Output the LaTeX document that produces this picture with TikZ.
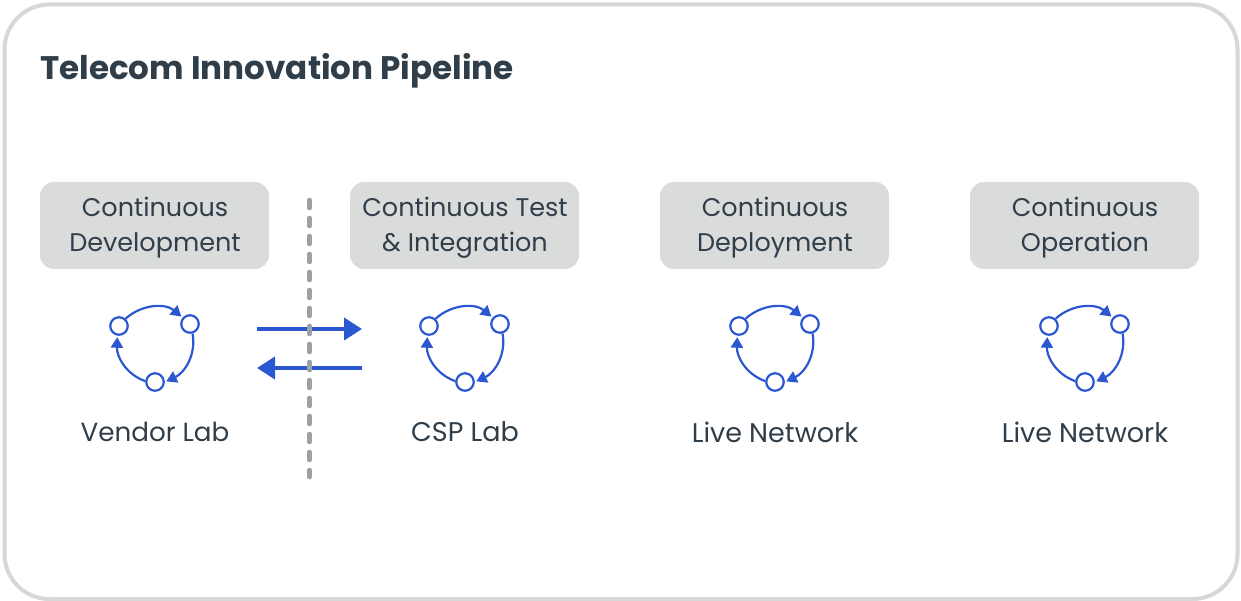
\documentclass[tikz,border=0pt]{standalone}
\usepackage{fontspec}
\setmainfont{Poppins}
\usetikzlibrary{arrows.meta}
\definecolor{framegray}{HTML}{D6D7D7}
\definecolor{boxgray}{HTML}{DADCDC}
\definecolor{inkdark}{HTML}{303E4A}
\definecolor{flowblue}{HTML}{2B57D0}
\definecolor{dashgray}{HTML}{9BA1A5}
\tikzset{
  x=1pt, y=-1pt,
  frame/.style={draw=framegray, line width=4pt, rounded corners=45pt},
  stagebox/.style={fill=boxgray, rounded corners=14pt, minimum width=229pt, minimum height=87pt, inner sep=0pt},
  stagetext/.style={align=center, inner sep=0pt, text=inkdark, font=\fontsize{25.5}{35}\selectfont},
  place/.style={text=inkdark, font=\fontsize{27}{32}\selectfont, inner sep=0pt},
  loopdot/.style={circle, draw=flowblue, fill=white, line width=2.2pt, minimum size=17.5pt, inner sep=0pt},
  looparc/.style={draw=flowblue, line width=2.2pt, -{Triangle[length=10.5pt,width=12pt]}, shorten >=1.5pt},
  flow/.style={draw=flowblue, line width=4pt, -{Triangle[length=18pt,width=22pt]}},
}
\begin{document}
\begin{tikzpicture}
\useasboundingbox (0,0) rectangle (1241,601);
\draw[frame] (4.5,4.5) rectangle (1237.5,599);
\node[anchor=west, inner sep=0pt, text=inkdark, font=\fontsize{32.6}{40}\selectfont\bfseries] (title) at (40,71) {Telecom Innovation Pipeline};

% stage boxes with their captions set a little below centre
\node[stagebox] (s0) at (154.5,225.5) {};
\node[stagebox] (s1) at (464.5,225.5) {};
\node[stagebox] (s2) at (774.5,225.5) {};
\node[stagebox] (s3) at (1084.5,225.5) {};
\node[stagetext] (t0) at (155,228) {Continuous\\Development};
\node[stagetext] (t1) at (465,228) {Continuous Test\\\& Integration};
\node[stagetext] (t2) at (775,228) {Continuous\\Deployment};
\node[stagetext] (t3) at (1085,228) {Continuous\\Operation};

\node[place, font=\fontsize{26.2}{32}\selectfont] (p0) at (155,432) {Vendor Lab};
\node[place] (p1) at (465,432) {CSP Lab};
\node[place] (p2) at (775,432) {Live Network};
\node[place] (p3) at (1085,432) {Live Network};

% one three-node cycle under each stage
\foreach \i/\dx in {0/0,1/310,2/620,3/930} {
  \node[loopdot] (a\i) at (119+\dx,326) {};
  \node[loopdot] (b\i) at (190+\dx,324) {};
  \node[loopdot] (c\i) at (155+\dx,382) {};
  \draw[looparc] (a\i.48) to[out=42,in=140] (b\i.139);
  \draw[looparc] (b\i.-75) to[out=-80,in=25] (c\i.0);
  \draw[looparc] (c\i.175) to[out=160,in=-92] (a\i.-100);
}

\coordinate (r0) at (257,329);
\coordinate (r1) at (362,329);
\coordinate (l0) at (362,368);
\coordinate (l1) at (257,368);
\draw[flow] (r0) -- (r1);
\draw[flow] (l0) -- (l1);

\coordinate (d0) at (309.5,200);
\coordinate (d1) at (309.5,477);
\draw[draw=dashgray, line width=4.5pt, line cap=round, dash pattern=on 8pt off 10pt] (d0) -- (d1);
\end{tikzpicture}
\end{document}
